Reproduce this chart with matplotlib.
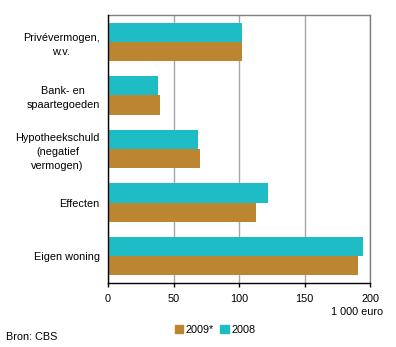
import matplotlib
matplotlib.use("Agg")
from matplotlib import pyplot as plt
from matplotlib.patches import Patch

categories = ["Privévermogen,\nw.v.", "Bank- en\nspaartegoeden", "Hypotheekschuld\n(negatief\nvermogen)",
              "Effecten", "Eigen woning"]
values_2009 = [102, 40, 70, 113, 191]
values_2008 = [102, 38.5, 68.5, 122, 195]
x_ticks = [0, 50, 100, 150, 200]

BROWN = "#BB8532"
TEAL = "#1EBCC5"

plt.rcParams["font.family"] = ["Liberation Sans", "DejaVu Sans"]
plt.rcParams["font.size"] = 7.8

fig = plt.figure(figsize=(3.96, 3.47), dpi=100)
ax = fig.add_axes([108 / 396, 1 - 283 / 347, 262 / 396, 268 / 347])

pos = list(range(len(categories)))
h = 0.36
ax.barh([p + h / 2 for p in pos], values_2009, height=h, color=BROWN, zorder=3)
ax.barh([p - h / 2 for p in pos], values_2008, height=h, color=TEAL, zorder=3)

ax.set_ylim(len(categories) - 0.5, -0.5)
ax.set_xlim(0, 200)
ax.set_xticks(x_ticks)
ax.set_yticks(pos)
ax.set_yticklabels(categories, ha="right", multialignment="center", linespacing=1.5)
ax.tick_params(axis="y", length=0, pad=6)
ax.tick_params(axis="x", length=3, width=1, color="black", pad=5)
ax.xaxis.grid(True, color="#A6A6A6", linewidth=1, zorder=0)

ax.spines["left"].set_color("black")
ax.spines["bottom"].set_color("black")
ax.spines["top"].set_color("#808080")
ax.spines["right"].set_color("#808080")
for s in ax.spines.values():
    s.set_linewidth(1)
ax.spines["left"].set_zorder(4)

fig.text(383 / 396, 1 - 312 / 347, "1 000 euro", ha="right", va="center")
fig.text(6 / 396, 1 - 337 / 347, "Bron: CBS", ha="left", va="center")

handles = [Patch(color=BROWN, label="2009*"), Patch(color=TEAL, label="2008")]
fig.legend(handles=handles, loc="center", bbox_to_anchor=(215 / 396, 1 - 330 / 347), ncol=2,
           frameon=False, handlelength=0.8, handleheight=0.8, handletextpad=0.2, columnspacing=0.6,
           borderpad=0)

fig.savefig("out.png", dpi=100)
